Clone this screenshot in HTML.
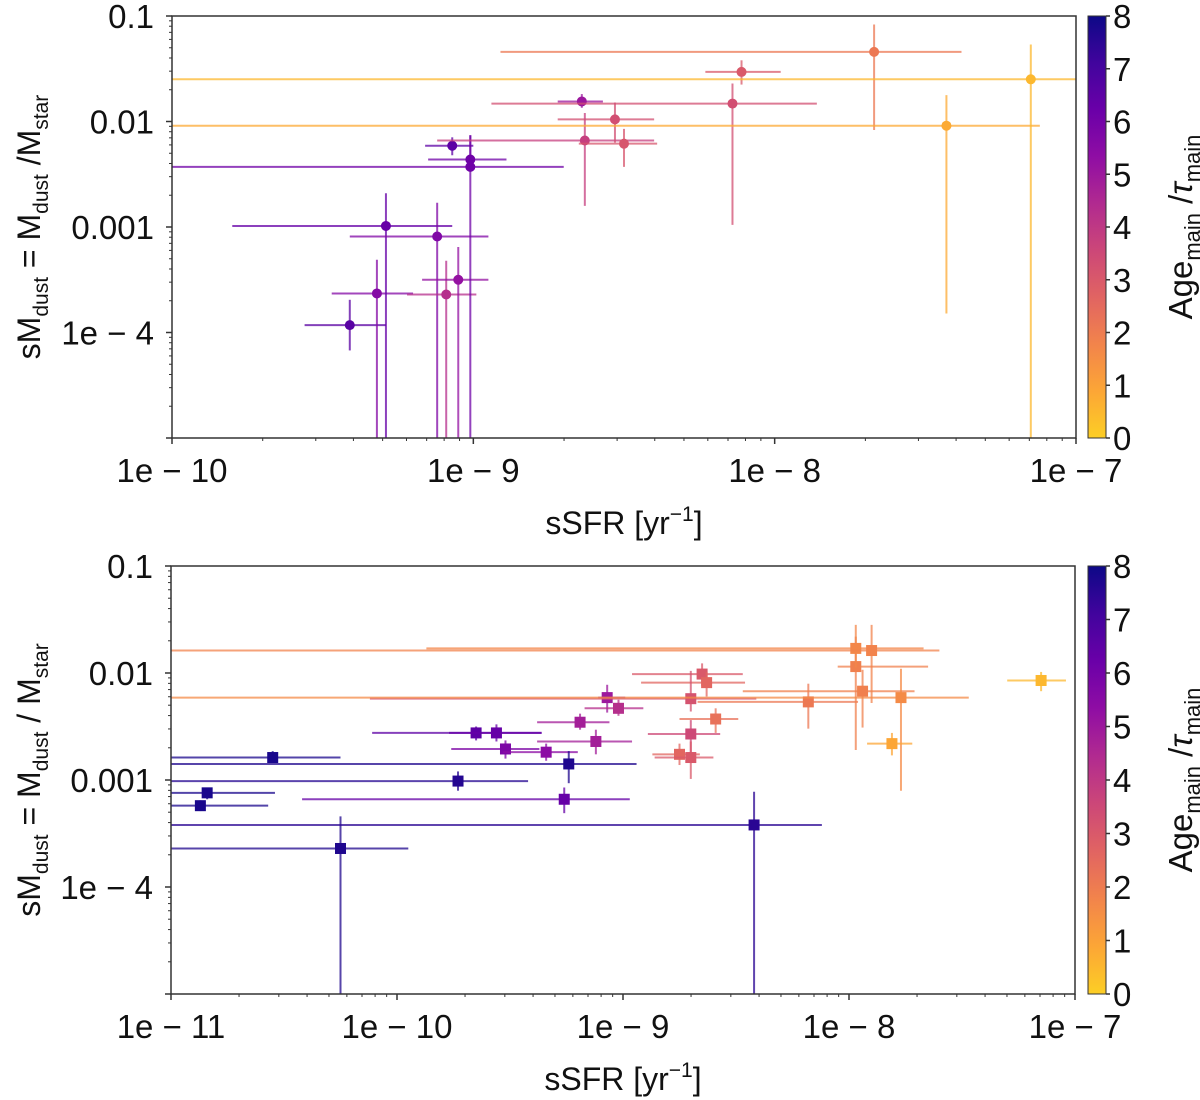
<!DOCTYPE html>
<html><head><meta charset="utf-8"><style>
body{margin:0;background:#fff;}
svg{display:block;font-family:"Liberation Sans","DejaVu Sans",sans-serif;}
</style></head><body>
<svg id="fig" width="1200" height="1100" viewBox="0 0 1200 1100" xmlns="http://www.w3.org/2000/svg">
<defs>
<linearGradient id="cmap" x1="0" y1="1" x2="0" y2="0">
<stop offset="0" stop-color="#fcce25"/><stop offset="0.111" stop-color="#fca636"/><stop offset="0.222" stop-color="#f2844b"/><stop offset="0.333" stop-color="#e16462"/><stop offset="0.444" stop-color="#cc4778"/><stop offset="0.556" stop-color="#b12a90"/><stop offset="0.667" stop-color="#8f0da4"/><stop offset="0.778" stop-color="#6a00a8"/><stop offset="0.889" stop-color="#41049d"/><stop offset="1" stop-color="#0d0887"/>
</linearGradient>
</defs>
</svg>
<script>
// ---- Top panel data (log10 values) ----
const topLogX   = [-9.41,-9.32,-9.29,-9.12,-9.09,-9.05,-9.07,-9.01,-9.01,-8.64,-8.63,-8.53,-8.50,-8.14,-8.11,-7.67,-7.43,-7.15];
const topLogXlo = [-9.56,-9.47,-9.80,-9.41,-9.22,-9.17,-9.16,-9.15,-10.2,-8.72,-9.12,-8.72,-8.65,-8.94,-8.23,-8.91,-10.2,-10.2];
const topLogXhi = [-9.29,-9.20,-9.07,-8.95,-8.99,-8.95,-9.00,-8.89,-8.70,-8.57,-8.40,-8.40,-8.39,-7.86,-7.98,-7.38,-7.12,-6.90];
const topLogY   = [-3.93,-3.63,-2.99,-3.09,-3.64,-3.50,-2.23,-2.36,-2.43,-1.81,-2.18,-1.98,-2.21,-1.83,-1.53,-1.34,-2.04,-1.60];
const topLogYhi = [-3.69,-3.31,-2.68,-2.77,-3.32,-3.19,-2.15,-2.13,-2.13,-1.74,-1.92,-1.82,-2.07,-1.64,-1.42,-1.08,-1.75,-1.27];
const topLogYlo = [-4.17,-5.2,-5.2,-5.2,-5.2,-5.2,-2.32,-2.46,-5.2,-1.87,-2.80,-2.20,-2.43,-2.98,-1.65,-2.08,-3.82,-5.2];
const topAge    = [6.6,5.6,6.3,5.7,4.3,5.2,6.5,6.1,6.1,5.0,3.8,3.3,3.1,3.3,3.0,2.1,0.8,0.5];
// ---- Bottom panel data (log10 values) ----
const botLogX   = [-10.87,-10.84,-10.55,-10.25,-9.73,-9.65,-9.56,-9.52,-9.34,-9.24,-9.26,-9.19,-9.12,-9.07,-9.02,-8.65,-8.63,-8.70,-8.59,-8.75,-8.18,-8.70,-8.70,-7.97,-7.94,-7.97,-7.90,-7.77,-7.81,-7.15,-8.42];
const botLogXlo = [-11.2,-11.2,-11.2,-11.2,-11.2,-10.11,-9.77,-9.76,-9.53,-11.2,-10.42,-9.38,-9.38,-9.11,-9.17,-8.96,-8.92,-10.12,-8.75,-8.87,-8.67,-8.89,-8.86,-8.05,-8.47,-9.87,-11.2,-11.2,-7.92,-7.30,-11.2];
const botLogXhi = [-10.57,-10.54,-10.25,-9.95,-9.42,-9.36,-9.36,-9.37,-9.20,-8.94,-8.97,-9.06,-8.96,-8.99,-8.91,-8.47,-8.46,-8.41,-8.49,-8.66,-7.96,-8.57,-8.60,-7.65,-7.71,-7.67,-7.60,-7.47,-7.72,-7.04,-8.12];
const botLogY   = [-3.24,-3.12,-2.79,-3.64,-3.01,-2.56,-2.56,-2.71,-2.74,-2.85,-3.18,-2.46,-2.64,-2.23,-2.33,-2.01,-2.09,-2.24,-2.43,-2.76,-2.27,-2.57,-2.79,-1.94,-2.17,-1.77,-1.79,-2.23,-2.66,-2.07,-3.42];
const botLogYhi = [-3.19,-3.07,-2.73,-3.34,-2.92,-2.50,-2.48,-2.63,-2.66,-2.73,-3.07,-2.38,-2.53,-2.11,-2.25,-1.91,-1.99,-1.98,-2.33,-2.66,-2.10,-2.44,-2.64,-1.66,-1.97,-1.55,-1.55,-1.96,-2.56,-1.99,-3.11];
const botLogYlo = [-3.29,-3.18,-2.84,-5.2,-3.10,-2.63,-2.64,-2.80,-2.82,-3.03,-3.31,-2.53,-2.76,-2.37,-2.40,-2.12,-2.22,-2.36,-2.56,-2.86,-2.52,-2.81,-2.99,-2.72,-2.51,-1.95,-2.28,-3.10,-2.77,-2.17,-5.2];
const botAge    = [7.8,7.8,7.8,7.7,7.6,6.5,6.3,5.8,5.4,7.7,6.3,4.8,4.8,5.0,4.3,3.0,2.6,3.2,2.3,2.6,2.1,3.5,3.0,1.9,1.9,1.7,1.8,1.6,0.9,0.5,7.5];
const yTickLabels = ["0.1","0.01","0.001","1e − 4"];
const topXTickLabels = ["1e − 10","1e − 9","1e − 8","1e − 7"];
const botXTickLabels = ["1e − 11","1e − 10","1e − 9","1e − 8","1e − 7"];
const cbTickLabels = ["0","1","2","3","4","5","6","7","8"];

const NS="http://www.w3.org/2000/svg";
const svg=document.getElementById('fig');
function mk(tag,attrs,parent){const e=document.createElementNS(NS,tag);for(const k in attrs)e.setAttribute(k,attrs[k]);(parent||svg).appendChild(e);return e;}
const stops=[[13,8,135],[65,4,157],[106,0,168],[143,13,164],[177,42,144],[204,71,120],[225,100,98],[242,132,75],[252,166,54],[252,206,37]];
function color(a){let t=(8-a)/8*9;t=Math.max(0,Math.min(9,t));const i=Math.min(8,Math.floor(t)),f=t-i;const c=stops[i].map((v,k)=>Math.round(v+(stops[i+1][k]-v)*f));return `rgb(${c[0]},${c[1]},${c[2]})`;}

function panel(cfg){
  const {L,R,T,B,xmin,xmax,ymin,ymax,name}=cfg;
  const sx=v=>L+(v-xmin)/(xmax-xmin)*(R-L);
  const sy=v=>B-(v-ymin)/(ymax-ymin)*(B-T);
  const g=mk('g',{});
  
  
  const clipId=name+'clip';
  const cp=mk('clipPath',{id:clipId},g);mk('rect',{x:L,y:T,width:R-L,height:B-T},cp);
  const marks=mk('g',{'clip-path':`url(#${clipId})`},g);
  const n=cfg.x.length;
  for(let i=0;i<n;i++){
    const col=color(cfg.age[i]);
    const pg=mk('g',{},marks);
    
    
    mk('line',{x1:sx(cfg.xlo[i]),x2:sx(cfg.xhi[i]),y1:sy(cfg.y[i]),y2:sy(cfg.y[i]),stroke:col,'stroke-width':2,'stroke-opacity':0.75},pg);
    mk('line',{x1:sx(cfg.x[i]),x2:sx(cfg.x[i]),y1:sy(cfg.yhi[i]),y2:sy(cfg.ylo[i]),stroke:col,'stroke-width':2,'stroke-opacity':0.75},pg);
    if(cfg.marker==='o') mk('circle',{cx:sx(cfg.x[i]),cy:sy(cfg.y[i]),r:5,fill:col},pg);
    else mk('rect',{x:sx(cfg.x[i])-5.5,y:sy(cfg.y[i])-5.5,width:11,height:11,fill:col},pg);
  }
  const fr=mk('rect',{x:L,y:T,width:R-L,height:B-T,fill:'none',stroke:'#333','stroke-width':1.5},g);
  
  
  for(let d=ymin;d<=ymax;d++){
    mk('line',{x1:L-6,x2:L,y1:sy(d),y2:sy(d),stroke:'#333','stroke-width':1.5},g);
    if(d<ymax) for(let m=2;m<10;m++){const yy=sy(d+Math.log10(m));mk('line',{x1:L-3,x2:L,y1:yy,y2:yy,stroke:'#333','stroke-width':1},g);}
  }
  cfg.yTickVals.forEach((v,i)=>{const t=mk('text',{x:L-18,y:sy(v)+12,'text-anchor':'end','font-size':33,fill:'#111'},g);t.textContent=yTickLabels[i];
    });
  for(let d=xmin;d<=xmax;d++){
    mk('line',{x1:sx(d),x2:sx(d),y1:B,y2:B+6,stroke:'#333','stroke-width':1.5},g);
    if(d<xmax) for(let m=2;m<10;m++){const xx=sx(d+Math.log10(m));mk('line',{x1:xx,x2:xx,y1:B,y2:B+3,stroke:'#333','stroke-width':1},g);}
  }
  cfg.xTickVals.forEach((v,i)=>{const t=mk('text',{x:sx(v),y:B+44,'text-anchor':'middle','font-size':33,fill:'#111'},g);t.textContent=cfg.xTickLabels[i];
    });
  const xt=mk('text',{x:(L+R)/2,y:B+96,'text-anchor':'middle','font-size':32,fill:'#111'},g);
  xt.innerHTML='sSFR [yr<tspan dy="-13" font-size="21">−1</tspan><tspan dy="13">]</tspan>';
  
  const yt=mk('text',{transform:`translate(40,${(T+B)/2}) rotate(-90)`,'text-anchor':'middle','font-size':32,fill:'#111'},g);
  yt.innerHTML=cfg.ytitle;
  
  const cb=mk('g',{},g);
  
  
  mk('rect',{x:1088,y:T,width:18,height:B-T,fill:'url(#cmap)',stroke:'#333','stroke-width':1},cb);
  cbTickLabels.forEach((lab,i)=>{const yy=B-(+lab)/8*(B-T);
    mk('line',{x1:1106,x2:1110,y1:yy,y2:yy,stroke:'#333','stroke-width':1.5},cb);
    const t=mk('text',{x:1113,y:yy+12,'font-size':33,fill:'#111'},cb);t.textContent=lab;
    });
  const ct=mk('text',{transform:`translate(1192,${(T+B)/2}) rotate(-90)`,'text-anchor':'middle','font-size':33,fill:'#111'},cb);
  ct.innerHTML='Age<tspan dy="8" font-size="22">main</tspan><tspan dy="-8"> /</tspan><tspan font-style="italic">τ</tspan><tspan dy="8" font-size="22">main</tspan>';
  
}
panel({name:'top',L:172,R:1076,T:16,B:438,xmin:-10,xmax:-7,ymin:-5,ymax:-1,
  x:topLogX,xlo:topLogXlo,xhi:topLogXhi,y:topLogY,ylo:topLogYlo,yhi:topLogYhi,age:topAge,marker:'o',
  yTickVals:[-1,-2,-3,-4],xTickVals:[-10,-9,-8,-7],xTickLabels:topXTickLabels,
  ytitle:'sM<tspan dy="8" font-size="21">dust</tspan><tspan dy="-8"> = M</tspan><tspan dy="8" font-size="21">dust</tspan><tspan dy="-8"> /M</tspan><tspan dy="8" font-size="21">star</tspan>'});
panel({name:'bottom',L:171,R:1075,T:566,B:994,xmin:-11,xmax:-7,ymin:-5,ymax:-1,
  x:botLogX,xlo:botLogXlo,xhi:botLogXhi,y:botLogY,ylo:botLogYlo,yhi:botLogYhi,age:botAge,marker:'s',
  yTickVals:[-1,-2,-3,-4],xTickVals:[-11,-10,-9,-8,-7],xTickLabels:botXTickLabels,
  ytitle:'sM<tspan dy="8" font-size="21">dust</tspan><tspan dy="-8">  =  M</tspan><tspan dy="8" font-size="21">dust</tspan><tspan dy="-8">  /  M</tspan><tspan dy="8" font-size="21">star</tspan>'});
</script>
</body></html>
